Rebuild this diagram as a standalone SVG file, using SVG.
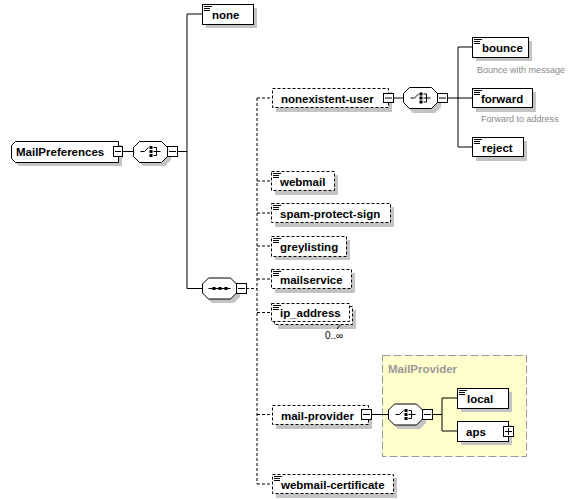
<svg xmlns="http://www.w3.org/2000/svg" width="576" height="500" viewBox="0 0 576 500">
<defs>
<style>
.sh{fill:#c4c4c4;stroke:none}
.el{fill:#fff;stroke:#000;stroke-width:1}
.opt{fill:#fff;stroke:#000;stroke-width:1;stroke-dasharray:3,2}
.t{font-family:"Liberation Sans",Arial,sans-serif;font-weight:bold;font-size:11.5px;fill:#000}
.d{font-family:"Liberation Sans",Arial,sans-serif;font-size:9px;fill:#888}
.ln{stroke:#000;stroke-width:1;fill:none}
.dl{stroke:#000;stroke-width:1;fill:none;stroke-dasharray:3,2}
.ic{stroke:#000;stroke-width:1;fill:none}
.bx{fill:#fff;stroke:#000;stroke-width:1}
</style>
<g id="doc">
<path d="M1.5,2h8M1.5,4h6M1.5,6h6" class="ic"/>
</g>
<g id="choiceIcon">
<path d="M7,10.5h4l4,-4" class="ic"/>
<rect x="16" y="5" width="3" height="3" fill="#000"/>
<rect x="16" y="9" width="3" height="3" fill="#000"/>
<rect x="16" y="13" width="3" height="3" fill="#000"/>
<path d="M20,6.5h3v8h-3M20,10.5h7" class="ic"/>
</g>
<g id="seqIcon">
<path d="M6,10.5h22" class="ic"/>
<rect x="10" y="9" width="3" height="3" fill="#000"/>
<rect x="16" y="9" width="3" height="3" fill="#000"/>
<rect x="22" y="9" width="3" height="3" fill="#000"/>
</g>
<path id="oct" d="M6,0h22l6,6v9l-6,6h-22l-6,-6v-9z"/>
</defs>

<g id="group-MailProvider">
<rect x="382.5" y="355.5" width="144" height="101" fill="#ffffcc" stroke="#999" stroke-dasharray="8,3"/>
<text x="388" y="373" class="t" style="fill:#999">MailProvider</text>
</g>

<g id="connectors">
<path class="ln" d="M123,151.5H133M178,151.5H187M187,14V288.5M187,14H202M187,288.5H202"/>
<path class="dl" d="M246,288.5H257M257,98V484M257,98H272M257,181H271M257,213H271M257,246H271M257,279H271M257,312.5H271M257,414.5H272M257,484H272"/>
<path class="ln" d="M393,98H403M448,98H458M458,47V147M458,47H472M458,98H472M458,147H472"/>
<path class="ln" d="M372,414.5H388M433,414.5H442M442,398V431M442,398H457M442,431H457"/>
</g>

<g id="MailPreferences">
<path class="sh" d="M19,145h103v21h-103l-4,-4v-13z"/>
<path class="el" d="M15.5,141.5h103v21h-103l-4,-4v-13z"/>
<text x="16" y="156" class="t">MailPreferences</text>
<rect class="bx" x="113.5" y="146.5" width="9" height="10"/>
<path class="ln" d="M115,151.5h6"/>
</g>

<g id="choice-root">
<use href="#oct" x="137" y="145" class="sh"/>
<use href="#oct" x="133.5" y="141.5" fill="#fff" stroke="#000"/>
<use href="#choiceIcon" x="133.5" y="141"/>
<rect class="bx" x="167.5" y="146.5" width="10" height="10"/>
<path class="ln" d="M169,151.5h7"/>
</g>

<g id="none">
<rect class="sh" x="206" y="8" width="51" height="20"/>
<rect class="el" x="202.5" y="4.5" width="51" height="20"/>
<use href="#doc" x="202.5" y="4.5"/>
<text x="212" y="19" class="t">none</text>
</g>

<g id="sequence">
<use href="#oct" x="206" y="282" class="sh"/>
<use href="#oct" x="202.5" y="278" fill="#fff" stroke="#000"/>
<use href="#seqIcon" x="202.5" y="278"/>
<rect class="bx" x="236.5" y="283.5" width="10" height="10"/>
<path class="ln" d="M238,288.5h7"/>
</g>

<g id="nonexistent-user">
<rect class="sh" x="276" y="92" width="116" height="20"/>
<rect class="opt" x="272.5" y="88.5" width="116" height="19"/>
<text x="281" y="103" class="t">nonexistent-user</text>
<rect class="bx" x="383.5" y="93.5" width="10" height="9"/>
<path class="ln" d="M385,98h7"/>
</g>

<g id="choice-nonexistent">
<use href="#oct" x="407" y="92" class="sh"/>
<use href="#oct" x="403.5" y="87.5" fill="#fff" stroke="#000"/>
<use href="#choiceIcon" x="403.5" y="87.5"/>
<rect class="bx" x="437.5" y="93.5" width="10" height="9"/>
<path class="ln" d="M439,98h7"/>
</g>

<g id="bounce">
<rect class="sh" x="476" y="41" width="56" height="20"/>
<rect class="el" x="472.5" y="37.5" width="56" height="20"/>
<use href="#doc" x="472.5" y="37.5"/>
<text x="482" y="52" class="t">bounce</text>
<text x="477" y="73" class="d">Bounce with message</text>
</g>

<g id="forward">
<rect class="sh" x="476" y="92" width="60" height="20"/>
<rect class="el" x="472.5" y="88.5" width="60" height="19"/>
<use href="#doc" x="472.5" y="88.5"/>
<text x="481" y="103" class="t">forward</text>
<text x="481" y="122" class="d">Forward to address</text>
</g>

<g id="reject">
<rect class="sh" x="476" y="141" width="51" height="20"/>
<rect class="el" x="472.5" y="137.5" width="51" height="19"/>
<use href="#doc" x="472.5" y="137.5"/>
<text x="482" y="152" class="t">reject</text>
</g>

<g id="webmail">
<rect class="sh" x="275" y="175" width="63" height="20"/>
<rect class="opt" x="271.5" y="171.5" width="63" height="19"/>
<use href="#doc" x="271.5" y="171.5"/>
<text x="280" y="186" class="t">webmail</text>
</g>

<g id="spam-protect-sign">
<rect class="sh" x="275" y="207" width="119" height="20"/>
<rect class="opt" x="271.5" y="203.5" width="119" height="19"/>
<use href="#doc" x="271.5" y="203.5"/>
<text x="280" y="218" class="t">spam-protect-sign</text>
</g>

<g id="greylisting">
<rect class="sh" x="275" y="240" width="75" height="20"/>
<rect class="opt" x="271.5" y="236.5" width="75" height="20"/>
<use href="#doc" x="271.5" y="236.5"/>
<text x="280" y="251" class="t">greylisting</text>
</g>

<g id="mailservice">
<rect class="sh" x="275" y="273" width="80" height="20"/>
<rect class="opt" x="271.5" y="269.5" width="80" height="19"/>
<use href="#doc" x="271.5" y="269.5"/>
<text x="280" y="284" class="t">mailservice</text>
</g>

<g id="ip_address">
<rect class="sh" x="278" y="310" width="78" height="19"/>
<rect class="opt" x="274.5" y="306.5" width="78" height="18"/>
<rect class="opt" x="271.5" y="303.5" width="78" height="18"/>
<use href="#doc" x="271.5" y="303.5"/>
<text x="280" y="317" class="t">ip_address</text>
<path class="ln" d="M337,329l3,-4"/>
<text x="325" y="339" font-family="Liberation Sans,Arial,sans-serif" font-size="10px" fill="#000">0..∞</text>
</g>

<g id="mail-provider">
<rect class="sh" x="276" y="409" width="96" height="20"/>
<rect class="opt" x="272.5" y="405.5" width="96" height="19"/>
<text x="281" y="420" class="t">mail-provider</text>
<rect class="bx" x="361.5" y="409.5" width="10" height="10"/>
<path class="ln" d="M363,414.5h7"/>
</g>

<g id="choice-provider">
<use href="#oct" x="392" y="408" class="sh"/>
<use href="#oct" x="388.5" y="404" fill="#fff" stroke="#000"/>
<use href="#choiceIcon" x="388.5" y="404"/>
<rect class="bx" x="422.5" y="409.5" width="10" height="10"/>
<path class="ln" d="M424,414.5h7"/>
</g>

<g id="local">
<rect class="sh" x="461" y="392" width="51" height="20"/>
<rect class="el" x="457.5" y="388.5" width="51" height="20"/>
<use href="#doc" x="457.5" y="388.5"/>
<text x="467" y="403" class="t">local</text>
</g>

<g id="aps">
<rect class="sh" x="461" y="425" width="51" height="20"/>
<rect class="el" x="457.5" y="421.5" width="51" height="20"/>
<text x="466" y="436" class="t">aps</text>
<rect class="bx" x="503.5" y="426.5" width="10" height="10"/>
<path class="ln" d="M505,431.5h7M508.5,428v7"/>
</g>

<g id="webmail-certificate">
<rect class="sh" x="276" y="478" width="121" height="20"/>
<rect class="opt" x="272.5" y="474.5" width="121" height="19"/>
<use href="#doc" x="272.5" y="474.5"/>
<text x="281" y="489" class="t">webmail-certificate</text>
</g>
</svg>
